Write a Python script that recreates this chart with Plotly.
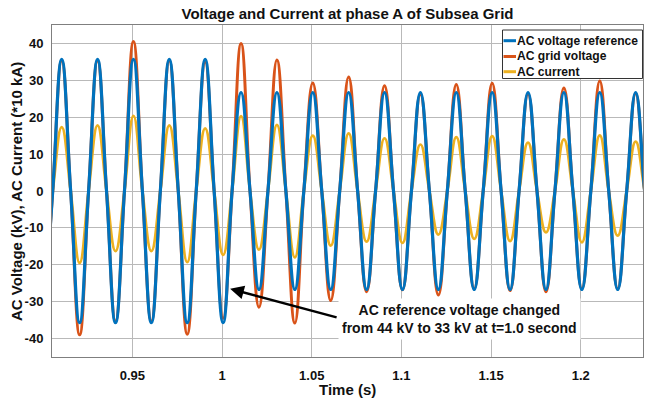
import plotly.graph_objects as go

# ---------------- data ----------------
series_names = ["AC voltage reference", "AC grid voltage", "AC current"]
series_colors = ["#0072BD", "#D95319", "#EDB120"]

# times (s) of successive half-cycle extrema (troughs / peaks), 50 Hz waveform
extremum_times = [0.9006, 0.9106, 0.9206, 0.9306, 0.9406, 0.9506, 0.9606, 0.9706,
                  0.9806, 0.9906, 1.0006, 1.0106, 1.0206, 1.0306, 1.0406, 1.0506,
                  1.0606, 1.0706, 1.0806, 1.0906, 1.1006, 1.1106, 1.1206, 1.1306,
                  1.1406, 1.1506, 1.1606, 1.1706, 1.1806, 1.1906, 1.2006, 1.2106,
                  1.2206, 1.2306, 1.2406]

voltage_reference_extrema = [-35.7, 35.7, -35.7, 35.7, -35.7, 35.7, -35.7, 35.7,
                             -35.7, 35.7, -35.7, 26.7, -26.7, 26.7, -26.7, 26.7,
                             -26.7, 26.7, -26.7, 26.7, -26.7, 26.7, -26.7, 26.7,
                             -26.7, 26.7, -26.7, 26.7, -26.7, 26.7, -26.7, 26.7,
                             -26.7, 26.7, -26.7]

grid_voltage_extrema = [-35.5, 35.3, -39.0, 35.3, -35.3, 40.5, -35.3, 35.3,
                        -38.8, 35.0, -34.5, 40.0, -31.5, 35.5, -35.8, 29.3,
                        -29.7, 30.9, -27.3, 28.5, -26.8, 26.2, -28.2, 28.9,
                        -26.5, 29.2, -27.0, 26.3, -27.3, 27.9, -26.5, 29.8,
                        -26.5, 26.4, -27.0]

current_extrema = [-19.0, 17.3, -19.5, 17.8, -16.3, 20.4, -16.3, 17.8,
                   -19.3, 17.0, -17.3, 20.3, -15.9, 17.9, -18.0, 15.0,
                   -14.8, 15.6, -13.7, 14.3, -14.1, 12.6, -11.8, 14.6,
                   -13.0, 14.9, -13.6, 13.1, -11.2, 14.0, -13.9, 15.1,
                   -12.1, 13.4, -13.0]

x_tick_values = [0.95, 1.0, 1.05, 1.1, 1.15, 1.2]
x_tick_labels = ["0.95", "1", "1.05", "1.1", "1.15", "1.2"]
y_tick_values = [-40, -30, -20, -10, 0, 10, 20, 30, 40]
y_tick_labels = ["-40", "-30", "-20", "-10", "0", "10", "20", "30", "40"]

title_text = "Voltage and Current at phase A of Subsea Grid"
x_title = "Time (s)"
y_title = "AC Voltage (kV), AC Current (*10 kA)"
note_text = "AC reference voltage changed<br>from 44 kV to 33 kV at t=1.0 second"
note_target = (1.0045, -26.5)


def waveform(times, extrema):
    """Extrema joined through their zero crossings (smoothed by the spline)."""
    xs, ys = [], []
    for i, (t, v) in enumerate(zip(times, extrema)):
        if i > 0:
            xs.append((times[i - 1] + t) / 2.0)
            ys.append(0.0)
        xs.append(t)
        ys.append(v)
    return xs, ys


series_values = [voltage_reference_extrema, grid_voltage_extrema, current_extrema]
line_widths = [3.2, 3.0, 2.7]

fig = go.Figure()
# draw current first, then grid voltage, then reference on top
for idx in [2, 1, 0]:
    xs, ys = waveform(extremum_times, series_values[idx])
    fig.add_trace(go.Scatter(
        x=xs, y=ys, mode="lines", name=series_names[idx],
        line=dict(color=series_colors[idx], width=line_widths[idx],
                  shape="spline", smoothing=1.3),
        showlegend=False, hoverinfo="skip"))

FONT = "Liberation Sans, Arial, Helvetica, sans-serif"
ML, MR, MT, MB = 52, 2, 25, 44
W, H = 645, 401
PW, PH = W - ML - MR, H - MT - MB

fig.update_layout(
    width=W, height=H,
    margin=dict(l=ML, r=MR, t=MT, b=MB, autoexpand=False),
    paper_bgcolor="white", plot_bgcolor="white",
    font=dict(family=FONT, size=13, color="#111111", weight="bold"),
    title=dict(text=title_text, x=0.5, xanchor="center", xref="paper",
               y=1 - 14 / H, yanchor="middle", yref="container",
               font=dict(size=15, family=FONT, color="#111111", weight="bold")),
    showlegend=False,
)

fig.update_xaxes(
    range=[0.9052, 1.2347], tickvals=x_tick_values, ticktext=x_tick_labels,
    showgrid=True, gridcolor="#b9b9b9", gridwidth=1,
    showline=True, linecolor="#7f7f7f", linewidth=1, mirror=True,
    zeroline=False, ticks="", ticklabelstandoff=6, automargin=False,
    tickfont=dict(size=13, weight="bold"),
)
fig.update_yaxes(
    range=[-45, 45], tickvals=y_tick_values, ticktext=y_tick_labels,
    showgrid=True, gridcolor="#b9b9b9", gridwidth=1,
    showline=True, linecolor="#7f7f7f", linewidth=1, mirror=True,
    zeroline=False, ticks="", ticklabelstandoff=5, automargin=False,
    tickfont=dict(size=13, weight="bold"),
)


def px_to_paper_x(px):
    return (px - ML) / PW


def px_to_paper_y(py):
    return (H - MB - py) / PH


# axis titles
fig.add_annotation(x=px_to_paper_x(347.5), y=px_to_paper_y(389), xref="paper", yref="paper",
                   text=x_title, showarrow=False, xanchor="center", yanchor="middle",
                   font=dict(size=15, family=FONT, color="#111111", weight="bold"))
fig.add_annotation(x=px_to_paper_x(16.5), y=px_to_paper_y(191.5), xref="paper", yref="paper",
                   text=y_title, showarrow=False, textangle=-90,
                   xanchor="center", yanchor="middle",
                   font=dict(size=15, family=FONT, color="#111111", weight="bold"))

# ---- manual legend (short swatches, as in the reference) ----
fig.add_shape(type="rect", xref="paper", yref="paper",
              x0=px_to_paper_x(502.5), x1=px_to_paper_x(642.5),
              y0=px_to_paper_y(78.5), y1=px_to_paper_y(30),
              line=dict(color="#333333", width=1), fillcolor="white", layer="above")
row_y = [40.7, 56.5, 71.7]
for i, name in enumerate(series_names):
    fig.add_shape(type="line", xref="paper", yref="paper",
                  x0=px_to_paper_x(503.5), x1=px_to_paper_x(516),
                  y0=px_to_paper_y(row_y[i]), y1=px_to_paper_y(row_y[i]),
                  line=dict(color=series_colors[i], width=3), layer="above")
    fig.add_annotation(x=px_to_paper_x(515.5), y=px_to_paper_y(row_y[i]),
                       xref="paper", yref="paper", xanchor="left", yanchor="middle",
                       text=name, showarrow=False, borderpad=0,
                       font=dict(size=12.1, family=FONT, color="#111111", weight="bold"))

# ---- callout ----
fig.add_annotation(x=note_target[0], y=note_target[1], xref="x", yref="y",
                   text="", showarrow=True, ax=108, ay=29,
                   arrowhead=2, arrowsize=1.1, arrowwidth=2.5, arrowcolor="black")
fig.add_annotation(x=1.1323, y=-34.6, xref="x", yref="y", text=note_text,
                   showarrow=False, bgcolor="white", borderpad=3,
                   font=dict(size=14, family=FONT, color="#111111", weight="bold"))

# remove the browser's default 8px page margin so the figure fills the window exactly
fig.write_html("out.html",
               config={"displayModeBar": False},
               post_script="document.body.style.margin='0';document.body.style.padding='0';")
